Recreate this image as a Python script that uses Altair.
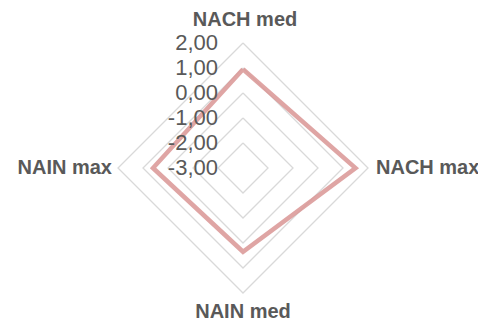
import altair as alt
import pandas as pd

categories = ["NACH med", "NACH max", "NAIN med", "NAIN max"]
values = [0.95, 1.5, 0.35, 0.6]
ticks = [-3, -2, -1, 0, 1, 2]
tick_labels = ["-3,00", "-2,00", "-1,00", "0,00", "1,00", "2,00"]
axis_min = -3

n = len(categories)

# series polygon (closed)
series_df = pd.DataFrame({
    "k": list(range(n + 1)),
    "idx": [i % n for i in range(n + 1)],
    "value": [values[i % n] for i in range(n + 1)],
})

# grid polygons (closed) for each tick level above the minimum
grid_rows = []
for t in ticks[1:]:
    for k in range(n + 1):
        grid_rows.append({"level": t, "k": k, "idx": k % n, "value": t})
grid_df = pd.DataFrame(grid_rows)

tick_df = pd.DataFrame({"value": ticks, "label": tick_labels, "idx": [0] * len(ticks)})
cat_df = pd.DataFrame({"idx": list(range(n)), "cat": categories, "value": [ticks[-1]] * n})

r_expr = f"datum.value - ({axis_min})"
th_expr = f"datum.idx * 2 * PI / {n}"

def polar(ch):
    return ch.transform_calculate(
        r=r_expr, th=th_expr
    ).transform_calculate(
        px="datum.r * sin(datum.th)", py="datum.r * cos(datum.th)"
    )

xs = alt.Scale(domain=[-9.4, 9.4])
ys = alt.Scale(domain=[-6.24, 6.4])
X = alt.X("px:Q", scale=xs, axis=None)
Y = alt.Y("py:Q", scale=ys, axis=None)

TXT = "#595959"
FONT = "Liberation Sans"

grid = polar(alt.Chart(grid_df)).mark_line(color="#D9D9D9", strokeWidth=1.3).encode(
    x=X, y=Y, detail="level:N", order="k:Q"
)

series = polar(alt.Chart(series_df)).mark_line(
    color="#D99594", strokeWidth=4.5, opacity=0.85, strokeJoin="miter"
).encode(x=X, y=Y, order="k:Q")

tick_text = polar(alt.Chart(tick_df)).mark_text(
    align="right", baseline="middle", dx=-25, fontSize=22, font=FONT, color=TXT
).encode(x=X, y=Y, text="label:N")

def cat_layer(i, **kw):
    return polar(alt.Chart(cat_df).transform_filter(f"datum.idx == {i}")).mark_text(
        fontSize=20, fontWeight="bold", font=FONT, color=TXT, baseline="middle", **kw
    ).encode(x=X, y=Y, text="cat:N")

top = cat_layer(0, align="center", dy=-23, dx=2)
right = cat_layer(1, align="left", dx=8, dy=0)
bottom = cat_layer(2, align="center", dy=19, dx=0)
left = cat_layer(3, align="right", dx=-6, dy=0)

chart = alt.layer(grid, series, tick_text, top, right, bottom, left).properties(
    width=470, height=316, autosize="none", padding=0
).configure_view(stroke=None)

chart.save("out.html", embed_options={"renderer": "svg", "actions": False})
